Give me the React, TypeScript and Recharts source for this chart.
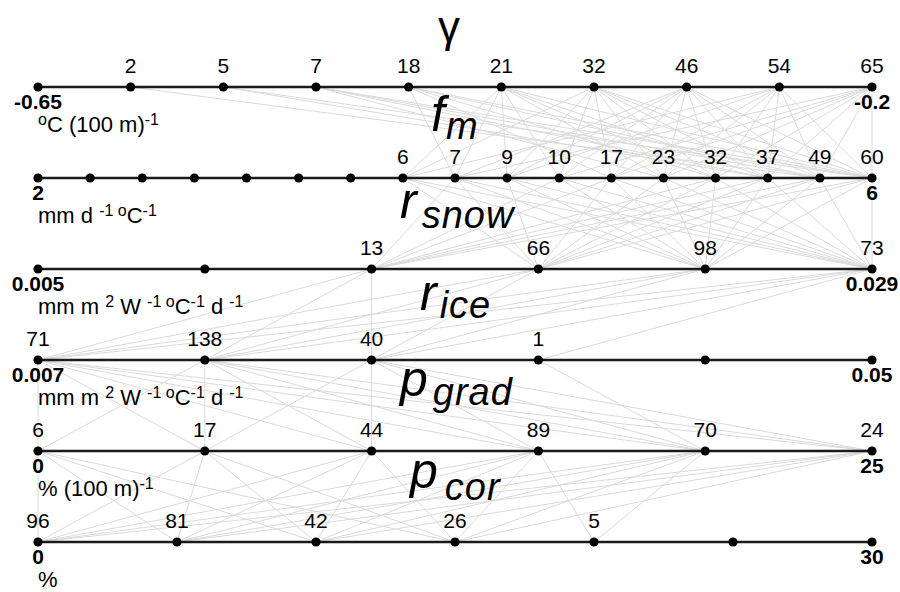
import { ComposedChart, Line, Scatter, XAxis, YAxis } from "recharts";

const FONT = "'Liberation Sans', Arial, sans-serif";

// parameter grid values (one row per parameter, top to bottom)
const gammaValues = [-0.65, -0.6, -0.55, -0.5, -0.45, -0.4, -0.35, -0.3, -0.25, -0.2];
const gammaCounts = [0, 2, 5, 7, 18, 21, 32, 46, 54, 65];
const fmValues = [2, 2.25, 2.5, 2.75, 3, 3.25, 3.5, 3.75, 4, 4.25, 4.5, 4.75, 5, 5.25, 5.5, 5.75, 6];
const fmCounts = [0, 0, 0, 0, 0, 0, 0, 6, 7, 9, 10, 17, 23, 32, 37, 49, 60];
const rSnowValues = [0.005, 0.0098, 0.0146, 0.0194, 0.0242, 0.029];
const rSnowCounts = [0, 0, 13, 66, 98, 73];
const rIceValues = [0.007, 0.0156, 0.0242, 0.0328, 0.0414, 0.05];
const rIceCounts = [71, 138, 40, 1, 0, 0];
const pGradValues = [0, 5, 10, 15, 20, 25];
const pGradCounts = [6, 17, 44, 89, 70, 24];
const pCorValues = [0, 5, 10, 15, 20, 25, 30];
const pCorCounts = [96, 81, 42, 26, 5, 0, 0];

const minLabels = ["-0.65", "2", "0.005", "0.007", "0", "0"];
const maxLabels = ["-0.2", "6", "0.029", "0.05", "25", "30"];

// unit strings: [text, superscript?]
const units: [string, boolean][][] = [
  [["o", true], ["C (100 m)", false], ["-1", true]],
  [["mm d ", false], ["-1 o", true], ["C", false], ["-1", true]],
  [["mm m ", false], ["2", true], [" W ", false], ["-1 o", true], ["C", false], ["-1", true], [" d ", false], ["-1", true]],
  [["mm m ", false], ["2", true], [" W ", false], ["-1 o", true], ["C", false], ["-1", true], [" d ", false], ["-1", true]],
  [["% (100 m)", false], ["-1", true]],
  [["%", false]],
];

// connections between neighbouring rows: [index on upper row, index on lower row]
const gammaFmLinks: [number, number][] = [
  [1, 15],
  [2, 14], [2, 16],
  [3, 12], [3, 14], [3, 15], [3, 16],
  [4, 8], [4, 11], [4, 13], [4, 15], [4, 16],
  [5, 7], [5, 8], [5, 9], [5, 10], [5, 12], [5, 13], [5, 14], [5, 16],
  [6, 7], [6, 9], [6, 10], [6, 11], [6, 12], [6, 13], [6, 14], [6, 15], [6, 16],
  [7, 8], [7, 9], [7, 10], [7, 11], [7, 12], [7, 13], [7, 14], [7, 15], [7, 16],
  [8, 7], [8, 9], [8, 11], [8, 12], [8, 13], [8, 14], [8, 15], [8, 16],
  [9, 8], [9, 10], [9, 11], [9, 12], [9, 13], [9, 14], [9, 15], [9, 16],
];
const fmSnowLinks: [number, number][] = [
  [7, 3], [7, 4], [7, 5],
  [8, 2], [8, 3], [8, 4], [8, 5],
  [9, 3], [9, 4], [9, 5],
  [10, 2], [10, 4], [10, 5],
  [11, 2], [11, 3], [11, 4], [11, 5],
  [12, 3], [12, 4], [12, 5],
  [13, 2], [13, 3], [13, 4], [13, 5],
  [14, 2], [14, 3], [14, 4], [14, 5],
  [15, 2], [15, 3], [15, 4], [15, 5],
  [16, 2], [16, 3], [16, 4], [16, 5],
];
const snowIceLinks: [number, number][] = [
  [2, 0], [2, 1], [2, 2],
  [3, 0], [3, 1], [3, 2],
  [4, 0], [4, 1], [4, 2],
  [5, 0], [5, 1], [5, 2], [5, 3],
];
const iceGradLinks: [number, number][] = [
  [0, 0], [0, 1], [0, 2], [0, 3], [0, 4], [0, 5],
  [1, 0], [1, 1], [1, 2], [1, 3], [1, 4], [1, 5],
  [2, 1], [2, 2], [2, 3], [2, 4], [2, 5],
  [3, 4],
];
const gradCorLinks: [number, number][] = [
  [0, 0], [0, 1], [0, 2], [0, 3],
  [1, 0], [1, 1], [1, 2], [1, 3],
  [2, 0], [2, 1], [2, 2], [2, 3],
  [3, 0], [3, 1], [3, 2], [3, 3], [3, 4],
  [4, 0], [4, 1], [4, 2], [4, 3], [4, 4],
  [5, 0], [5, 1], [5, 2], [5, 3],
];

const rows = [
  { values: gammaValues, counts: gammaCounts },
  { values: fmValues, counts: fmCounts },
  { values: rSnowValues, counts: rSnowCounts },
  { values: rIceValues, counts: rIceCounts },
  { values: pGradValues, counts: pGradCounts },
  { values: pCorValues, counts: pCorCounts },
];
const links = [gammaFmLinks, fmSnowLinks, snowIceLinks, iceGradLinks, gradCorLinks];

// position along a row, 0..1 between the row's min and max
const pos = (values: number[], i: number) =>
  (values[i] - values[0]) / (values[values.length - 1] - values[0]);

const pointData = rows.flatMap((r, row) =>
  r.values.map((_, i) => ({ x: pos(r.values, i), y: row, count: r.counts[i] }))
);
const endData = rows.flatMap((_, row) => [
  { x: 0, y: row, label: minLabels[row], unit: units[row] },
  { x: 1, y: row, label: maxLabels[row], unit: null },
]);
const linkData = links.flatMap((pairs, row) =>
  pairs.map(([a, b]) => [
    { x: pos(rows[row].values, a), y: row },
    { x: pos(rows[row + 1].values, b), y: row + 1 },
  ])
);

const DotWithCount = (props: any) => {
  const { cx, cy, payload } = props;
  return (
    <g>
      <circle cx={cx} cy={cy} r={4.6} fill="#000" />
      {payload.count > 0 && (
        <text x={cx} y={cy - 14} textAnchor="middle" fontSize={21} fontFamily={FONT} fill="#000">
          {payload.count}
        </text>
      )}
    </g>
  );
};

const UnitText = ({ x, y, parts }: { x: number; y: number; parts: [string, boolean][] }) => {
  let raised = false;
  return (
    <text x={x} y={y} fontFamily={FONT} fill="#000" style={{ whiteSpace: "pre" }}>
      {parts.map(([t, sup], i) => {
        const dy = sup && !raised ? -7 : !sup && raised ? 7 : 0;
        raised = sup;
        return (
          <tspan key={i} dy={dy} fontSize={sup ? 16 : 22}>
            {t}
          </tspan>
        );
      })}
    </text>
  );
};

const EndLabel = (props: any) => {
  const { cx, cy, payload } = props;
  return (
    <g>
      <text x={cx} y={cy + 22} textAnchor="middle" fontSize={21} fontWeight="bold" fontFamily={FONT} fill="#000">
        {payload.label}
      </text>
      {payload.unit && <UnitText x={cx} y={cy + 45} parts={payload.unit} />}
    </g>
  );
};

const Title = ({ x, y, main, sub, dx, dy }: { x: number; y: number; main: string; sub: string; dx: number; dy: number }) => (
  <text x={x} y={y} fontFamily={FONT} fontStyle="italic" fill="#000">
    <tspan fontSize={50}>{main}</tspan>
    <tspan fontSize={38} dx={dx} dy={dy} letterSpacing={1}>{sub}</tspan>
  </text>
);

export default function App() {
  return (
    <div style={{ position: "absolute", left: 0, top: 0, width: 900, height: 592, background: "#fff" }}>
      <ComposedChart width={900} height={592} margin={{ top: 87, right: 28, bottom: 50, left: 38 }}>
        <XAxis type="number" dataKey="x" domain={[0, 1]} hide />
        <YAxis type="number" dataKey="y" domain={[0, 5]} reversed hide />
        {linkData.map((d, i) => (
          <Line
            key={`link-${i}`}
            data={d}
            dataKey="y"
            type="linear"
            stroke="#dadada"
            strokeWidth={1}
            dot={false}
            activeDot={false}
            isAnimationActive={false}
          />
        ))}
        {rows.map((_, row) => (
          <Line
            key={`axis-${row}`}
            data={[{ x: 0, y: row }, { x: 1, y: row }]}
            dataKey="y"
            type="linear"
            stroke="#1a1a1a"
            strokeWidth={2.5}
            dot={false}
            activeDot={false}
            isAnimationActive={false}
          />
        ))}
        <Scatter data={pointData} shape={DotWithCount} isAnimationActive={false} />
        <Scatter data={endData} shape={EndLabel} isAnimationActive={false} />
      </ComposedChart>

      <svg width={900} height={592} style={{ position: "absolute", left: 0, top: 0, pointerEvents: "none" }}>
        <text x={449} y={42} fontSize={44} textAnchor="middle" fontFamily={FONT} fill="#000">γ</text>
        <Title x={431} y={131} main="f" sub="m" dx={1} dy={8} />
        <Title x={400} y={218} main="r" sub="snow" dx={5} dy={10} />
        <Title x={420} y={310} main="r" sub="ice" dx={3} dy={8} />
        <Title x={400} y={396} main="p" sub="grad" dx={5} dy={9} />
        <Title x={410} y={488} main="p" sub="cor" dx={7} dy={12} />
      </svg>
    </div>
  );
}
